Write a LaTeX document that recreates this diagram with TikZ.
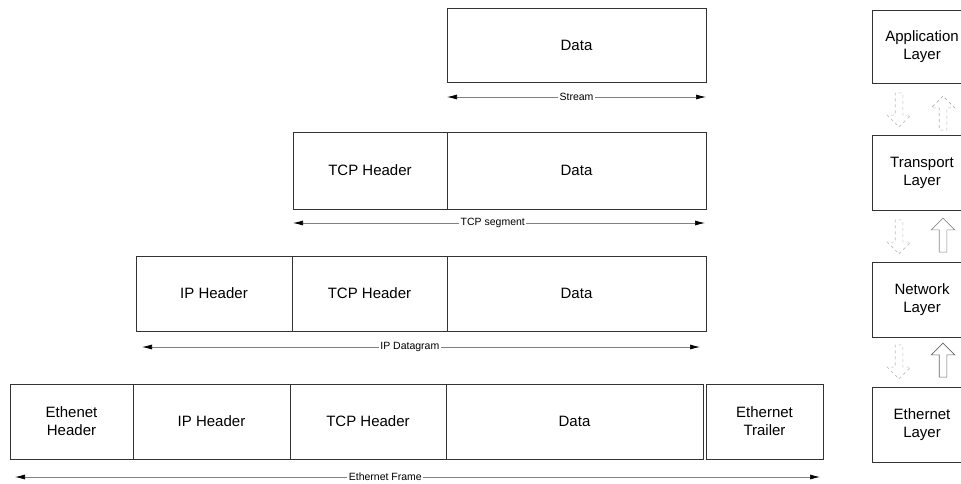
\documentclass[tikz,border=0pt]{standalone}
\usepackage{fontspec}
\setmainfont{Liberation Sans}
\usetikzlibrary{shapes.arrows,arrows.meta}
\begin{document}
\begin{tikzpicture}[x=1pt,y=-1pt,
  pkt/.style={draw=black!80, line width=0.8pt, anchor=north west, inner sep=0pt, outer sep=0pt,
    align=center, font=\fontsize{15}{18}\selectfont},
  span/.style={draw=black!50, line width=0.7pt,
    {Latex[length=10pt,width=5pt,color=black]}-{Latex[length=10pt,width=5pt,color=black]}},
  spanlbl/.style={fill=white, inner sep=1.5pt, text=black, font=\fontsize{10.5}{12}\selectfont},
  layarrow/.style={single arrow, rotate=90, minimum height=34pt, inner xsep=0pt, inner ysep=3.5pt,
    single arrow head extend=8pt, single arrow tip angle=90, line width=0.6pt}
]
\useasboundingbox (0,0) rectangle (961,483);
\clip (0,0) rectangle (961,483);
\fill[white] (0,0) rectangle (961,483);

% row 1
\node[pkt, minimum width=259pt, minimum height=74pt] (data1) at (447,8) {Data};
% row 2
\node[pkt, minimum width=154pt, minimum height=77pt] (tcp2) at (293,132) {TCP Header};
\node[pkt, minimum width=259pt, minimum height=77pt] (data2) at (447,132) {Data};
% row 3
\node[pkt, minimum width=156pt, minimum height=75pt] (ip3) at (136,256) {IP Header};
\node[pkt, minimum width=155pt, minimum height=75pt] (tcp3) at (292,256) {TCP Header};
\node[pkt, minimum width=259pt, minimum height=75pt] (data3) at (447,256) {Data};
% row 4
\node[pkt, minimum width=123pt, minimum height=75pt] (eth4) at (10,384) {Ethenet\\Header};
\node[pkt, minimum width=157pt, minimum height=75pt] (ip4) at (133,384) {IP Header};
\node[pkt, minimum width=156pt, minimum height=75pt] (tcp4) at (290,384) {TCP Header};
\node[pkt, minimum width=257pt, minimum height=75pt] (data4) at (446,384) {Data};
\node[pkt, minimum width=117pt, minimum height=75pt] (trl4) at (706,384) {Ethernet\\Trailer};

% layers
\node[pkt, minimum width=100pt, minimum height=73pt] (app) at (872,10) {Application\\Layer};
\node[pkt, minimum width=100pt, minimum height=75pt] (trn) at (872,135) {Transport\\Layer};
\node[pkt, minimum width=100pt, minimum height=75pt] (net) at (872,262) {Network\\Layer};
\node[pkt, minimum width=100pt, minimum height=75pt] (ethl) at (872,387) {Ethernet\\Layer};

% span arrows
\coordinate (s1l) at (447,97);  \coordinate (s1r) at (706,97);
\coordinate (s2l) at (293,223); \coordinate (s2r) at (705,223);
\coordinate (s3l) at (142,347); \coordinate (s3r) at (700,347);
\coordinate (s4l) at (15,477);  \coordinate (s4r) at (820,477);
\draw[span] (s1l) -- node[spanlbl] (l1) {Stream} (s1r);
\draw[span] (s2l) -- node[spanlbl, pos=0.485] (l2) {TCP segment} (s2r);
\draw[span] (s3l) -- node[spanlbl, pos=0.48] (l3) {IP Datagram} (s3r);
\draw[span] (s4l) -- node[spanlbl, pos=0.46] (l4) {Ethernet Frame} (s4r);

% layer arrows: down (faint) and up
\node[layarrow, rotate=180, draw=black!25, dashed] (da1) at (899,108) {};
\node[layarrow, draw=black!30, dashed] (ua1) at (943,115) {};
\node[layarrow, rotate=180, draw=black!25, dashed] (da2) at (899,235) {};
\node[layarrow, draw=black!45] (ua2) at (943,237) {};
\node[layarrow, rotate=180, draw=black!25, dashed] (da3) at (899,360) {};
\node[layarrow, draw=black!60] (ua3) at (943,362) {};
\end{tikzpicture}
\end{document}
